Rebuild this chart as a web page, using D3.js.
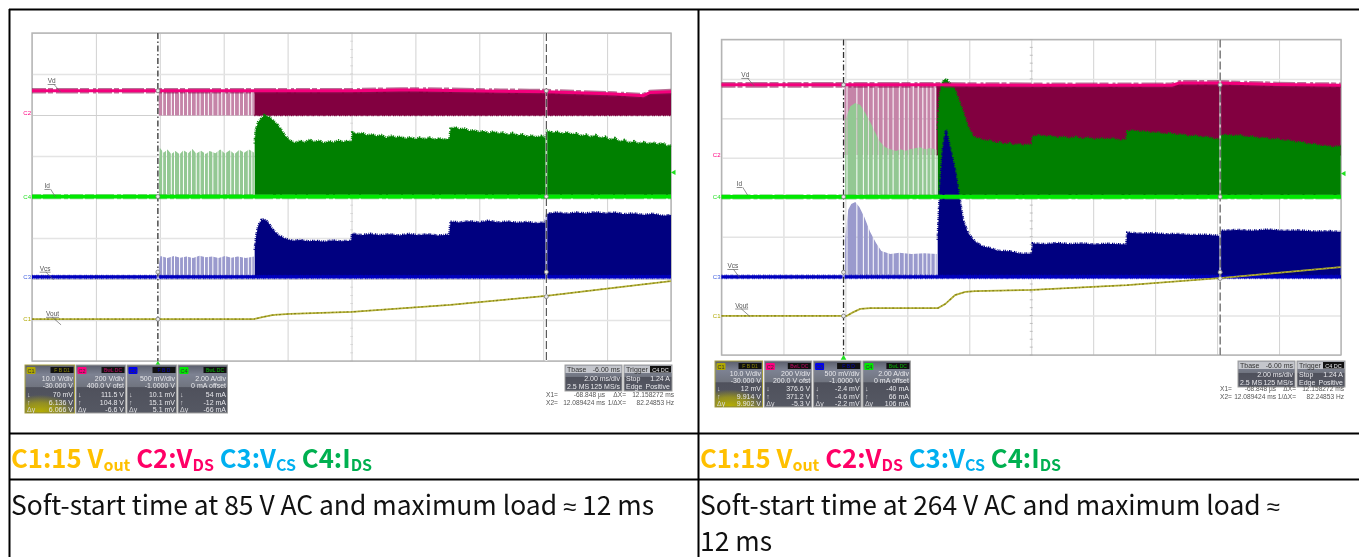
<!DOCTYPE html>
<html><head><meta charset="utf-8">
<script src="https://cdnjs.cloudflare.com/ajax/libs/d3/7.8.5/d3.min.js"></script>
<style>
html,body{margin:0;padding:0;background:#fff;overflow:hidden}
svg{display:block}
.scope{filter:blur(0.45px)}
</style></head><body><svg id="c" width="1359" height="557"></svg>
<script>
// ---------- data: [time in ms relative to the first cursor, vertical position in divisions from the top] ----------
const cursorTimes=[0,12.158];
const gridTimes=[-3.94,-1.94,0.06,2.06,4.06,6.06,8.06,10.06,12.06,14.06,16.06];
const gridDivs=[0,1,2,3,4,5,6,7,8];

const leftVdsLine=[[-3.94,1.41],[3.02,1.41],[6.1,1.41],[7.6,1.39],[8.06,1.39],[9.2,1.4],[10.72,1.42],[12.16,1.43],[14.3,1.49],[15.19,1.53],[15.41,1.45],[16.06,1.43]];
const leftVdsBottom=2.01;
const leftIdsPulse=[[0.02,3.4],[0.06,2.8],[0.18,2.92],[0.3,2.84],[0.42,2.95],[0.55,2.88],[0.68,2.96],[0.8,2.86],[0.95,2.93],[1.08,2.83],[1.2,2.94],[1.35,2.87],[1.5,2.95],[1.62,2.88],[1.8,2.93],[1.95,2.84],[2.1,2.94],[2.25,2.86],[2.4,2.95],[2.55,2.85],[2.7,2.92],[2.85,2.84],[3.02,2.92]];
const leftIdsRun=[[3.03,2.7],[3.06,2.37],[3.14,2.17],[3.33,2.0],[3.52,2.07],[3.75,2.24],[3.99,2.51],[4.14,2.63],[4.3,2.68],[4.45,2.63],[4.6,2.67],[4.75,2.6],[4.9,2.66],[5.05,2.62],[5.2,2.69],[5.35,2.64],[5.5,2.67],[5.65,2.62],[5.8,2.66],[5.95,2.63],[6.07,2.66],[6.09,2.43],[6.25,2.46],[6.4,2.44],[6.55,2.5],[6.7,2.47],[6.85,2.52],[7,2.49],[7.15,2.56],[7.3,2.51],[7.45,2.55],[7.6,2.53],[7.75,2.58],[7.9,2.54],[8.05,2.59],[8.2,2.55],[8.35,2.59],[8.5,2.55],[8.65,2.6],[8.8,2.57],[8.95,2.6],[9.13,2.58],[9.16,2.33],[9.3,2.3],[9.45,2.35],[9.6,2.33],[9.75,2.39],[9.9,2.37],[10.05,2.42],[10.2,2.39],[10.35,2.45],[10.5,2.4],[10.65,2.45],[10.8,2.43],[10.95,2.49],[11.1,2.44],[11.25,2.5],[11.4,2.47],[11.55,2.53],[11.7,2.5],[11.85,2.54],[12,2.51],[12.13,2.56],[12.17,2.38],[12.35,2.43],[12.5,2.41],[12.65,2.46],[12.8,2.42],[12.95,2.47],[13.1,2.45],[13.25,2.51],[13.4,2.48],[13.55,2.54],[13.7,2.49],[13.85,2.57],[14,2.53],[14.15,2.61],[14.3,2.56],[14.45,2.65],[14.6,2.61],[14.75,2.68],[14.9,2.64],[15.05,2.7],[15.2,2.66],[15.35,2.71],[15.5,2.67],[15.65,2.72],[15.8,2.68],[15.95,2.76],[16.06,2.74]];
const leftIdsBase=3.99;
const leftVcsPulse=[[0.02,5.7],[0.08,5.44],[0.3,5.49],[0.5,5.44],[0.7,5.48],[0.9,5.45],[1.1,5.49],[1.3,5.43],[1.5,5.47],[1.7,5.45],[1.9,5.49],[2.1,5.44],[2.3,5.48],[2.5,5.45],[2.75,5.49],[3.02,5.45]];
const leftVcsRun=[[3.03,5.29],[3.08,4.93],[3.14,4.71],[3.24,4.56],[3.33,4.54],[3.46,4.63],[3.58,4.78],[3.77,4.93],[3.99,5.02],[4.2,5.07],[4.46,5.05],[4.7,5.08],[4.95,5.07],[5.2,5.09],[5.45,5.06],[5.7,5.08],[6.05,5.07],[6.08,4.89],[6.35,4.93],[6.65,4.9],[6.95,4.93],[7.25,4.91],[7.55,4.94],[7.85,4.9],[8.15,4.93],[8.45,4.91],[8.75,4.94],[9.12,4.92],[9.16,4.6],[9.45,4.62],[9.75,4.59],[10.05,4.62],[10.35,4.58],[10.65,4.62],[10.95,4.6],[11.25,4.63],[11.55,4.61],[11.85,4.64],[12.13,4.62],[12.18,4.41],[12.5,4.38],[12.8,4.41],[13.1,4.38],[13.4,4.4],[13.7,4.37],[14,4.4],[14.3,4.38],[14.6,4.42],[14.9,4.4],[15.2,4.44],[15.5,4.41],[15.8,4.46],[16.06,4.44]];
const leftVcsBase=5.95;
const leftVout=[[-3.94,6.98],[3.0,6.98],[3.27,6.93],[3.58,6.88],[4.14,6.85],[6.08,6.8],[9.15,6.63],[12.16,6.41],[16.06,6.05]];
const leftGaps=[0.15,0.27,0.42,0.52,0.68,0.8,0.93,1.05,1.2,1.32,1.46,1.58,1.72,1.88,2.0,2.12,2.28,2.4,2.55,2.68,2.83,2.94];

const rightVdsLine=[[-3.94,1.15],[3.0,1.15],[6.1,1.16],[9.15,1.16],[10.6,1.16],[10.85,1.1],[12.15,1.1],[14,1.14],[16.05,1.16]];
const rightVdsBottom=2.93;
const rightIdsPulse=[[0.05,2.04],[0.22,1.69],[0.38,1.61],[0.54,1.66],[0.7,1.86],[0.86,2.09],[1.02,2.35],[1.18,2.6],[1.35,2.73],[1.51,2.78],[1.7,2.83],[1.83,2.78],[2.0,2.82],[2.15,2.78],[2.3,2.76],[2.47,2.73],[2.65,2.78],[2.8,2.75],[3.02,2.8]];
const rightIdsRun=[[3.04,2.29],[3.1,1.41],[3.18,1.13],[3.25,1.01],[3.35,1.03],[3.6,1.28],[3.86,1.84],[4.02,2.22],[4.2,2.47],[4.4,2.52],[4.57,2.57],[4.75,2.56],[4.9,2.63],[5.05,2.61],[5.2,2.66],[5.35,2.63],[5.5,2.68],[5.65,2.65],[5.8,2.69],[5.95,2.66],[6.08,2.68],[6.1,2.47],[6.3,2.43],[6.5,2.46],[6.7,2.45],[6.9,2.49],[7.1,2.47],[7.3,2.51],[7.5,2.47],[7.7,2.52],[7.9,2.49],[8.1,2.54],[8.3,2.51],[8.5,2.53],[8.7,2.51],[8.9,2.56],[9.13,2.54],[9.16,2.33],[9.35,2.31],[9.55,2.34],[9.75,2.33],[9.95,2.37],[10.15,2.36],[10.35,2.4],[10.55,2.38],[10.75,2.42],[10.95,2.41],[11.15,2.46],[11.35,2.44],[11.55,2.48],[11.75,2.47],[11.95,2.52],[12.12,2.54],[12.2,2.43],[12.4,2.42],[12.6,2.45],[12.8,2.43],[13,2.48],[13.2,2.46],[13.4,2.51],[13.6,2.49],[13.8,2.54],[14,2.52],[14.2,2.57],[14.4,2.56],[14.6,2.61],[14.8,2.6],[15,2.66],[15.2,2.65],[15.4,2.7],[15.6,2.7],[15.8,2.73],[16.05,2.7]];
const rightIdsBase=3.99;
const rightVcsPulse=[[0.05,5.08],[0.15,4.32],[0.25,4.17],[0.38,4.12],[0.51,4.25],[0.67,4.5],[0.86,4.88],[1.05,5.16],[1.22,5.36],[1.51,5.44],[1.8,5.41],[2.2,5.44],[2.6,5.42],[3.02,5.44]];
const rightVcsRun=[[3.04,5.08],[3.11,3.82],[3.2,2.8],[3.31,2.29],[3.44,2.75],[3.6,3.31],[3.73,3.95],[3.86,4.58],[4.02,4.91],[4.25,5.13],[4.5,5.25],[4.73,5.29],[5,5.36],[5.38,5.37],[5.7,5.43],[6.08,5.43],[6.11,5.17],[6.5,5.19],[6.9,5.16],[7.3,5.19],[7.7,5.17],[8.1,5.2],[8.5,5.18],[9.13,5.2],[9.16,4.9],[9.6,4.92],[10,4.91],[10.4,4.94],[10.8,4.93],[11.2,4.96],[11.7,4.95],[12.15,4.98],[12.2,4.85],[12.7,4.83],[13.2,4.85],[13.7,4.82],[14.2,4.85],[14.7,4.84],[15.2,4.87],[15.7,4.86],[16.05,4.88]];
const rightVcsBase=6.02;
const rightVout=[[-3.94,7.01],[0.1,7.01],[0.3,6.92],[0.54,6.83],[0.86,6.81],[3.05,6.81],[3.28,6.71],[3.6,6.48],[3.93,6.4],[4.25,6.38],[6.09,6.35],[9.15,6.23],[12.15,6.05],[16.05,5.77]];
const rightGaps=[0.11,0.43,0.64,0.8,0.96,1.12,1.28,1.44,1.6,1.8,1.96,2.09,2.25,2.41,2.56,2.69,2.82,2.96];

const headerRuns=[["C1:15 V","#FFC000",0],["out","#FFC000",1],[" C2:V","#FF0066",0],["DS","#FF0066",1],[" C3:V","#00B0F0",0],["CS","#00B0F0",1],[" C4:I","#00B050",0],["DS","#00B050",1]];
const leftCaption=["Soft-start time at 85 V AC and maximum load ","≈"," 12 ms"];
const rightCaption=["Soft-start time at 264 V AC and maximum load ","≈","","12 ms"];

const chanNames=["C1","C2","C3","C4"];
const chanColors=["#b0a800","#ff0080","#0000f0","#00e800"];
const chanFlags=["F  B  D1","BwL DC","F  B  D","BwL DC"];
const leftReadouts=[["10.0 V/div","-30.000 V","70 mV","6.136 V","6.066 V"],["200 V/div","400.0 V ofst","111.5 V","104.8 V","-6.6 V"],["500 mV/div","-1.0000 V","10.1 mV","15.1 mV","5.1 mV"],["2.00 A/div","0 mA offset","54 mA","-12 mA","-66 mA"]];
const rightReadouts=[["10.0 V/div","-30.000 V","12 mV","9.914 V","9.902 V"],["200 V/div","200.0 V ofst","376.6 V","371.2 V","-5.3 V"],["500 mV/div","-1.0000 V","-2.4 mV","-4.6 mV","-2.2 mV"],["2.00 A/div","0 mA offset","-40 mA","66 mA","106 mA"]];
const timebaseLines=["Tbase","-6.00 ms","2.00 ms/div","2.5 MS","125 MS/s"];
const triggerLines=["Trigger","Stop","1.24 A","Edge","Positive","C4 DC"];
const cursorReadouts=[["X1=","-68.848 µs","ΔX=","12.158272 ms"],["X2=","12.089424 ms","1/ΔX=","82.24853 Hz"]];

// ---------- drawing ----------
const svg=d3.select("#c");
const defs=svg.append("defs");
const panelGrad=defs.append("linearGradient").attr("id","pg").attr("x1",0).attr("y1",0).attr("x2",0).attr("y2",1);
[[0,"#5a5e6c"],[0.2,"#7d8292"],[0.46,"#70747f"],[0.47,"#4f515c"],[1,"#555863"]].forEach(s=>panelGrad.append("stop").attr("offset",s[0]).attr("stop-color",s[1]));
const glow=defs.append("radialGradient").attr("id","glow").attr("cx","0.3").attr("cy","1").attr("r","0.75");
[[0,"#b8b000",1],[0.55,"#a8a210",.75],[1,"#a8a210",0]].forEach(s=>glow.append("stop").attr("offset",s[0]).attr("stop-color",s[1]).attr("stop-opacity",s[2]));

let uid=0;
function drawScope(cfg){
  const g=svg.append("g").attr("class","scope");
  const x=d3.scaleLinear().domain([-3.94,16.06]).range([cfg.x0,cfg.x1]);
  const y=d3.scaleLinear().domain([0,8]).range([cfg.y0,cfg.y1]);
  const gx=g.append("g").attr("transform",`translate(0,${cfg.y1})`).call(d3.axisBottom(x).tickValues(gridTimes).tickSize(-(cfg.y1-cfg.y0)).tickFormat(""));
  gx.selectAll(".tick line").attr("stroke","#d2d2d2").attr("stroke-width",1);
  gx.select(".domain").remove();
  const gy=g.append("g").attr("transform",`translate(${cfg.x0},0)`).call(d3.axisLeft(y).tickValues(gridDivs).tickSize(-(cfg.x1-cfg.x0)).tickFormat(""));
  gy.selectAll(".tick line").attr("stroke",(d,i)=>i%2?"#e4e4e4":"#cfcfcf").attr("stroke-width",(d,i)=>i%2?1.6:1);
  gy.select(".domain").remove();
  g.append("rect").attr("x",cfg.x0).attr("y",cfg.y0).attr("width",cfg.x1-cfg.x0).attr("height",cfg.y1-cfg.y0).attr("fill","none").attr("stroke","#b4b4b4").attr("stroke-width",1.4);
  // centre-line tick marks
  const minor=d3.range(0,41).map(i=>i/5);
  g.selectAll(null).data(minor).enter().append("line").attr("x1",x(6.06)-1.5).attr("x2",x(6.06)+1.5).attr("y1",d=>y(d)).attr("y2",d=>y(d)).attr("stroke","#aaa").attr("stroke-width",.7).attr("opacity",cfg.tickOpacity);

  const area=(pts,base)=>d3.area().x(d=>x(d[0])).y0(y(base)).y1(d=>y(d[1]))(pts);
  const line=d3.line().x(d=>x(d[0])).y(d=>y(d[1]));
  const fuzz="1 1.5 0.6 1 1.4 0.8 0.7 2 1.1 0.7";

  function pulses(pts,base,color,extent){
    const id="clip"+(uid++);
    defs.append("clipPath").attr("id",id).append("path").attr("d",area(pts,base));
    const edges=[extent[0],...cfg.gaps,extent[1]];
    g.append("g").attr("clip-path",`url(#${id})`).selectAll("rect").data(d3.pairs(edges)).enter().append("rect")
      .attr("x",d=>x(d[0])+.5).attr("width",d=>Math.max(.5,x(d[1])-x(d[0])-1)).attr("y",cfg.y0).attr("height",cfg.y1-cfg.y0).attr("fill",color);
  }
  function run(pts,base,color){
    g.append("path").attr("d",area(pts,base)).attr("fill",color);
    g.append("path").attr("d",line(pts)).attr("fill","none").attr("stroke",color).attr("stroke-width",2.6).attr("stroke-dasharray",fuzz);
  }
  const t0=cursorTimes[0];
  // C2 VDS
  const vdsAfterStart=cfg.vdsLine.filter(d=>d[0]>=3.0);
  const pulseTop=d3.max(cfg.vdsLine.slice(0,2),d=>d[1]);
  pulses([[t0,pulseTop],[3.02,pulseTop]],cfg.vdsBottom,"#c584a8",[t0,3.02]);
  g.append("path").attr("d",area(vdsAfterStart,cfg.vdsBottom)).attr("fill","#820040");
  g.append("path").attr("d",line(vdsAfterStart.map(d=>[d[0],cfg.vdsBottom]))).attr("fill","none").attr("stroke","#820040").attr("stroke-width",1.6).attr("stroke-dasharray",fuzz);
  // C4 IDS
  pulses(cfg.idsPulse,cfg.idsBase,"#93c893",[t0,3.02]);
  run(cfg.idsRun,cfg.idsBase,"#008000");
  // C3 VCS
  pulses(cfg.vcsPulse,cfg.vcsBase,"#9a9acd",[t0,3.02]);
  run(cfg.vcsRun,cfg.vcsBase,"#000080");
  // trace bands
  g.append("path").attr("d",line(cfg.vdsLine)).attr("fill","none").attr("stroke","#8a1050").attr("stroke-width",5.6).attr("stroke-dasharray","14 2 5 3 22 2 9 4 3 2").attr("opacity",.6);
  g.append("path").attr("d",line(cfg.vdsLine)).attr("fill","none").attr("stroke","#f4007c").attr("stroke-width",3);
  const idsB=[[-3.94,cfg.idsBase],[16.06,cfg.idsBase]], vcsB=[[-3.94,cfg.vcsBase],[16.06,cfg.vcsBase]];
  g.append("path").attr("d",line(idsB)).attr("fill","none").attr("stroke","#30b830").attr("stroke-width",5.4).attr("stroke-dasharray","9 2 18 3 4 2 13 2").attr("opacity",.55);
  g.append("path").attr("d",line(idsB)).attr("fill","none").attr("stroke","#00e800").attr("stroke-width",3.6);
  g.append("path").attr("d",line(vcsB)).attr("fill","none").attr("stroke","#0000b8").attr("stroke-width",3.2);
  g.append("path").attr("d",line(vcsB)).attr("fill","none").attr("stroke","#0000c8").attr("stroke-width",4.6).attr("stroke-dasharray",fuzz).attr("opacity",.7);
  g.append("path").attr("d",line(cfg.vout)).attr("fill","none").attr("stroke","#b5b23a").attr("stroke-width",1.8);
  g.append("path").attr("d",line(cfg.vout)).attr("fill","none").attr("stroke","#85821a").attr("stroke-width",1.2).attr("stroke-dasharray","2 2.5 1 2");

  // cursors
  g.append("line").attr("x1",x(cursorTimes[0])).attr("x2",x(cursorTimes[0])).attr("y1",cfg.y0).attr("y2",cfg.y1).attr("stroke","#fff").attr("stroke-width",2.4).attr("opacity",.6);
  g.append("line").attr("x1",x(cursorTimes[0])).attr("x2",x(cursorTimes[0])).attr("y1",cfg.y0).attr("y2",cfg.y1).attr("stroke","#303030").attr("stroke-width",1.3).attr("stroke-dasharray","6 2.5 1.5 2.5");
  g.append("line").attr("x1",x(cursorTimes[1])).attr("x2",x(cursorTimes[1])).attr("y1",cfg.y0).attr("y2",cfg.y1).attr("stroke","#fff").attr("stroke-width",2).attr("opacity",.7);
  g.append("line").attr("x1",x(cursorTimes[1])).attr("x2",x(cursorTimes[1])).attr("y1",cfg.y0).attr("y2",cfg.y1).attr("stroke","#3a3a3a").attr("stroke-width",1).attr("stroke-dasharray","8 3");
  const markers=[cfg.vdsLine[0][1],cfg.idsBase,cfg.vcsBase-.12,cfg.vout[0][1]];
  cursorTimes.forEach((t,ti)=>markers.forEach(m=>{
    const v=ti===1&&m===markers[3]?m-cfg.voutCursorShift:m;
    g.append("circle").attr("cx",x(t)).attr("cy",y(v)).attr("r",2).attr("fill","#e8e8e8").attr("stroke","#777").attr("stroke-width",.8);
  }));
  // trigger markers
  g.append("path").attr("d",d3.symbol(d3.symbolTriangle,14)()).attr("transform",`translate(${x(cursorTimes[0])},${cfg.y1+3})`).attr("fill","#20e020");
  g.append("path").attr("d",d3.symbol(d3.symbolTriangle,12)()).attr("transform",`translate(${cfg.x1+3},${y(3.4)}) rotate(-90)`).attr("fill","#20e020");

  // trace labels
  cfg.labels.forEach(l=>{
    const lx=x(l[1]),ly=y(l[2]);
    g.append("text").attr("x",lx).attr("y",ly).attr("font-family","Liberation Sans").attr("font-size",6.5).attr("fill","#555").attr("text-decoration","underline").text(l[0]);
    g.append("line").attr("x1",lx+6).attr("y1",ly+1).attr("x2",lx+l[3]).attr("y2",ly+l[4]).attr("stroke","#666").attr("stroke-width",.7);
  });
  cfg.tags.forEach(l=>{
    g.append("text").attr("x",cfg.x0-1).attr("y",y(l[1])+2).attr("text-anchor","end").attr("font-family","Liberation Sans").attr("font-size",6).attr("fill",l[2]).text(l[0]);
  });

  // channel panels
  cfg.readouts.forEach((r,i)=>{
    const px=cfg.panelX+i*cfg.panelStep, py=cfg.panelY, w=cfg.panelW, h=cfg.panelH;
    const p=g.append("g");
    p.append("rect").attr("x",px).attr("y",py).attr("width",w).attr("height",h).attr("fill","url(#pg)").attr("stroke",i===0?"#a8a040":"#a0a0a0").attr("stroke-width",1);
    if(i===0)p.append("rect").attr("x",px+.5).attr("y",py+h*.5).attr("width",w-1).attr("height",h*.5-.5).attr("fill","url(#glow)");
    p.append("rect").attr("x",px+1.5).attr("y",py+2).attr("width",9).attr("height",7).attr("rx",1).attr("fill",chanColors[i]);
    p.append("text").attr("x",px+6).attr("y",py+7.5).attr("text-anchor","middle").attr("font-family","Liberation Sans").attr("font-size",5.5).attr("fill","#333").text(chanNames[i]);
    p.append("rect").attr("x",px+w-24).attr("y",py+2).attr("width",23).attr("height",6).attr("fill","#111");
    p.append("text").attr("x",px+w-12.5).attr("y",py+7).attr("text-anchor","middle").attr("font-family","Liberation Sans").attr("font-size",5).attr("fill",chanColors[i]).attr("opacity",.75).text(chanFlags[i]);
    const ly=[16,23,31.5,39.5,46.5];
    r.forEach((s,j)=>p.append("text").attr("x",px+w-1.5).attr("y",py+ly[j]*h/48).attr("text-anchor","end").attr("font-family","Liberation Sans").attr("font-size",7).attr("fill","#e8e8ec").text(s));
    ["↓","↑","Δy"].forEach((s,j)=>p.append("text").attr("x",px+2).attr("y",py+ly[j+2]*h/48).attr("font-family","Liberation Sans").attr("font-size",7).attr("fill","#d8d8dc").text(s));
  });
  // timebase + trigger
  const ix=cfg.infoX, iy=cfg.infoY;
  [[ix,57],[ix+59,48]].forEach(b=>{
    g.append("rect").attr("x",b[0]).attr("y",iy).attr("width",b[1]).attr("height",26).attr("fill","url(#pg)").attr("stroke","#a0a0a0");
  });
  g.append("rect").attr("x",ix+.5).attr("y",iy+.5).attr("width",56).attr("height",7.5).attr("fill","#c4c6cc");
  g.append("rect").attr("x",ix+59.5).attr("y",iy+.5).attr("width",47).attr("height",7.5).attr("fill","#c4c6cc");
  g.append("rect").attr("x",ix+85).attr("y",iy+1).attr("width",21).attr("height",6.5).attr("fill","#111");
  const itx=(s,xx,yy,a,c,fs)=>g.append("text").attr("x",xx).attr("y",yy).attr("text-anchor",a||"start").attr("font-family","Liberation Sans").attr("font-size",fs||7).attr("fill",c||"#e8e8ec").text(s);
  itx(timebaseLines[0],ix+2,iy+7,"start","#333");
  itx(timebaseLines[1],ix+55,iy+7,"end","#333");
  itx(timebaseLines[2],ix+55,iy+15.5,"end");
  itx(timebaseLines[3],ix+2,iy+24);
  itx(timebaseLines[4],ix+55,iy+24,"end");
  itx(triggerLines[0],ix+61,iy+7,"start","#333");
  itx(triggerLines[5],ix+95.5,iy+6.5,"middle","#e8e8ec",5.5);
  itx(triggerLines[1],ix+61,iy+15.5);
  itx(triggerLines[2],ix+105,iy+15.5,"end");
  itx(triggerLines[3],ix+61,iy+24);
  itx(triggerLines[4],ix+105,iy+24,"end");
  cursorReadouts.forEach((r,i)=>{
    const yy=iy+cfg.curDy+i*8;
    r.forEach((s,j)=>itx(s,ix+cfg.curX[j],yy,j?"end":"start","#555",6.6));
  });
}

drawScope({x0:32,x1:671,y0:33,y1:361,gaps:leftGaps,tickOpacity:.45,voutCursorShift:.55,
  vdsLine:leftVdsLine,vdsBottom:leftVdsBottom,idsPulse:leftIdsPulse,idsRun:leftIdsRun,idsBase:leftIdsBase,
  vcsPulse:leftVcsPulse,vcsRun:leftVcsRun,vcsBase:leftVcsBase,vout:leftVout,
  labels:[["Vd",-3.45,1.22,13,9],["Id",-3.55,3.78,11,9],["Vcs",-3.7,5.8,14,9],["Vout",-3.5,6.9,15,9]],
  tags:[["C2",1.96,"#ff0080"],["C4",3.99,"#20e020"],["C3",5.95,"#4060e0"],["C1",6.98,"#b0a800"]],
  readouts:leftReadouts,panelX:25,panelStep:51,panelY:365,panelW:49.5,panelH:48,infoX:565,infoY:365,curDy:32,curX:[-19,40,61,109]});
drawScope({x0:721.5,x1:1341,y0:39.5,y1:355,gaps:rightGaps,tickOpacity:1,voutCursorShift:.95,
  vdsLine:rightVdsLine,vdsBottom:rightVdsBottom,idsPulse:rightIdsPulse,idsRun:rightIdsRun,idsBase:rightIdsBase,
  vcsPulse:rightVcsPulse,vcsRun:rightVcsRun,vcsBase:rightVcsBase,vout:rightVout,
  labels:[["Vd",-3.3,0.95,13,9],["Id",-3.45,3.72,11,9],["Vcs",-3.75,5.8,12,9],["Vout",-3.5,6.8,15,9]],
  tags:[["C2",2.93,"#ff0080"],["C4",3.99,"#20e020"],["C3",6.02,"#4060e0"],["C1",7.01,"#b0a800"]],
  readouts:rightReadouts,panelX:715,panelStep:49.3,panelY:361,panelW:47.5,panelH:46,infoX:1238,infoY:361,curDy:30,curX:[-18,38,58,106]});

// table rules
[[9.5,9,9.5,557],[698.5,9,698.5,557],[9,9.5,1359,9.5],[9,433.5,1359,433.5],[9,479.5,1359,479.5]].forEach(l=>
  svg.append("line").attr("x1",l[0]).attr("y1",l[1]).attr("x2",l[2]).attr("y2",l[3]).attr("stroke","#000").attr("stroke-width",2));

// table text
const fam="'Noto Sans CJK SC','Noto Sans',sans-serif";
[11,700].forEach(xx=>{
  const t=svg.append("text").attr("x",xx).attr("y",468).attr("font-family",fam).attr("font-weight",700).attr("font-size",25.7).attr("xml:space","preserve");
  let sub=false;
  headerRuns.forEach(r=>{
    const s=t.append("tspan").attr("fill",r[1]).attr("font-size",r[2]?16:25.7).text(r[0]);
    if(r[2]&&!sub){s.attr("dy",3);sub=true;}
    else if(r[2]){s.attr("dy",3);}
    else if(sub){s.attr("dy",-3);}
  });
});
function caption(parts,xx,yy){
  const t=svg.append("text").attr("x",xx).attr("y",yy).attr("font-family",fam).attr("font-size",26.4).attr("fill","#111").attr("xml:space","preserve");
  parts.forEach(p=>{
    const s=t.append("tspan").text(p);
    if(p==="≈")s.attr("font-family","'Noto Sans',sans-serif").attr("font-size",24);
  });
}
caption(leftCaption,11,515);
caption(rightCaption.slice(0,2),700,515);
caption(rightCaption.slice(3),700,551);
</script></body></html>
